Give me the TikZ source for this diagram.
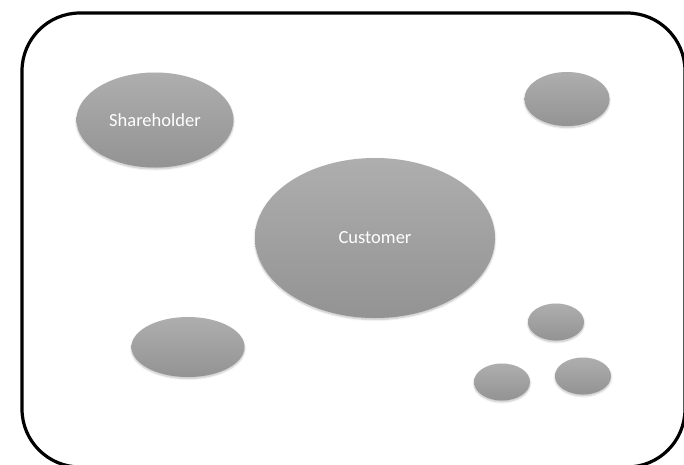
\documentclass[tikz,border=0pt]{standalone}
\usepackage{fontspec}
\setmainfont{Carlito}
\usetikzlibrary{shapes.geometric,shadows.blur}
\definecolor{topgray}{HTML}{AEAEAE}
\definecolor{botgray}{HTML}{939393}
\tikzset{
  blob/.style={ellipse, inner sep=0pt, top color=topgray, bottom color=botgray, draw=none,
    blur shadow={shadow xshift=0pt, shadow yshift=-1.5pt, shadow blur steps=6, shadow opacity=25},
    text=white, font=\fontsize{18.5}{20}\selectfont},
  frame/.style={draw=black, line width=3.2pt, rounded corners=58pt}
}
\begin{document}
\begin{tikzpicture}[x=1pt,y=-1pt]
\useasboundingbox (0,0) rectangle (684,464);
\path[frame] (22,13) rectangle (685,467);
\node[blob, minimum width=157pt, minimum height=95pt] (share) at (155,120) {\raisebox{-2.5pt}{Shareholder}};
\node[blob, minimum width=240pt, minimum height=160pt] (cust) at (375,238) {\raisebox{-2pt}{Customer}};
\node[blob, minimum width=85pt, minimum height=54pt] (tr) at (567,99) {};
\node[blob, minimum width=113pt, minimum height=60pt] (bl) at (188,347) {};
\node[blob, minimum width=56pt, minimum height=37pt] (s1) at (556,322) {};
\node[blob, minimum width=56pt, minimum height=37pt] (s2) at (502,382) {};
\node[blob, minimum width=56pt, minimum height=37pt] (s3) at (583,376) {};
\end{tikzpicture}
\end{document}
